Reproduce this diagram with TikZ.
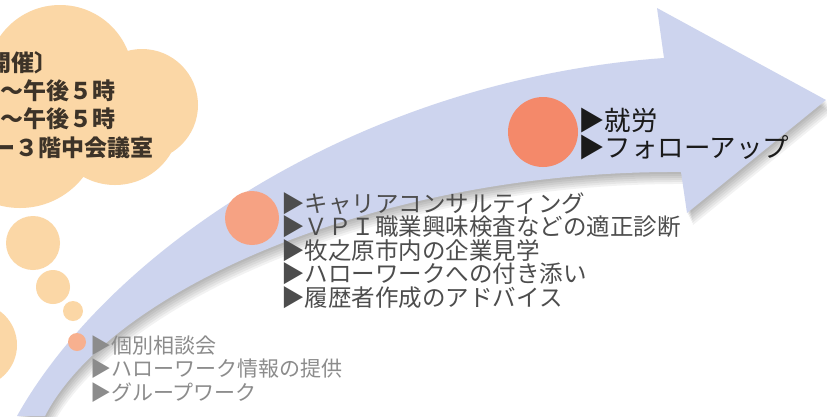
\documentclass[tikz,border=0pt]{standalone}
\usepackage{fontspec}
\newfontfamily\jpfont{Noto Sans CJK JP}
\definecolor{band}{HTML}{CDD4EE}
\definecolor{cloud}{HTML}{FBD7A6}
\definecolor{dotA}{HTML}{F7B08F}
\definecolor{dotB}{HTML}{F6A283}
\definecolor{dotC}{HTML}{F4896A}
\definecolor{txtA}{HTML}{8C8C8C}
\definecolor{txtB}{HTML}{4D4D4D}
\definecolor{txtC}{HTML}{1A1A1A}
\definecolor{txtD}{HTML}{3D3328}
\newcommand\bandshape{(17,416) .. controls (110,250) and (360,80) .. (664,58) -- (657,8) -- (826,100) -- (687,213) -- (681,172) .. controls (380,170) and (110,290) .. (45,416) -- cycle}
\begin{document}
\begin{tikzpicture}[x=1pt,y=-1pt,
    every node/.style={inner sep=0pt,anchor=base west},
    cloudtext/.style={font=\jpfont\bfseries\fontsize{23}{23}\selectfont,text=txtD},
    listA/.style={font=\jpfont\fontsize{21}{21}\selectfont,text=txtA},
    listB/.style={font=\jpfont\fontsize{23.5}{23.5}\selectfont,text=txtB},
    listC/.style={font=\jpfont\fontsize{26.5}{26.5}\selectfont,text=txtC}]
  \useasboundingbox (0,0) rectangle (827,416);
  \clip (0,0) rectangle (827,416);
  \fill[white] (0,0) rectangle (827,416);
  \fill[cloud] (60,78) circle (73) (142,105) circle (56) (115,120) circle (65) (20,128) circle (80);
  \fill[cloud] (33,243) circle (27) (53,287) circle (17) (73,311) circle (10) (-25,345) circle (42);
  \foreach \s in {1,...,6}
    \fill[black,opacity=.05,shift={(\s,2*\s)}] \bandshape;
  \fill[band] \bandshape;
  \fill[dotA] (77,342) circle (9);
  \fill[dotB] (252,218) circle (27);
  \fill[dotC] (543,132) circle (35);
  \node[cloudtext] at (-12,71) (c1) {開催〕};
  \node[cloudtext] at (0,99) (c2) {～午後５時};
  \node[cloudtext] at (0,127) (c3) {～午後５時};
  \node[cloudtext] at (-8,156) (c4) {ー３階中会議室};
  \foreach \t [count=\i] in {▶個別相談会,▶ハローワーク情報の提供,▶グループワーク}
    \node[listA] at (90,329.5+23.5*\i) (a\i) {\t};
  \foreach \t [count=\i] in {▶キャリアコンサルティング,▶ＶＰＩ職業興味検査などの適正診断,▶牧之原市内の企業見学,▶ハローワークへの付き添い,▶履歴者作成のアドバイス}
    \node[listB] at (281,188.5+23.5*\i) (b\i) {\t};
  \node[listC] at (578,130) (c5) {▶就労};
  \node[listC] at (578,157) (c6) {▶フォローアップ};
\end{tikzpicture}
\end{document}
